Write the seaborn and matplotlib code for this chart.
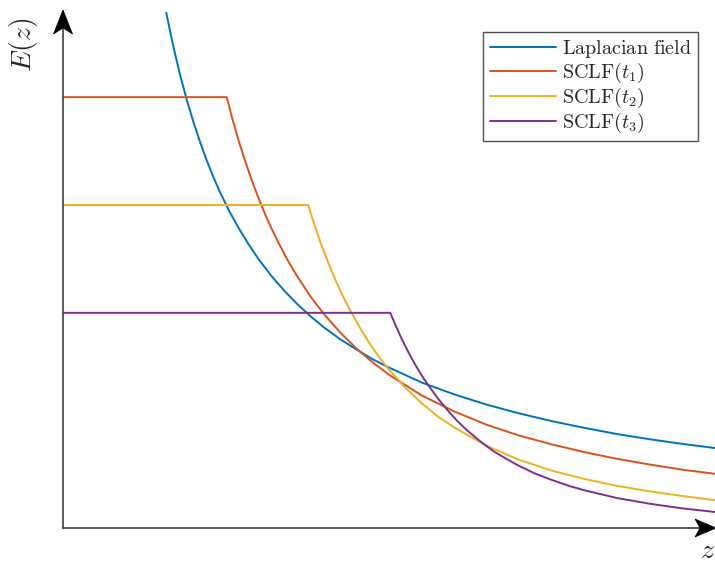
import matplotlib
matplotlib.use("Agg")
import matplotlib.pyplot as plt
import seaborn as sns
import pandas as pd
from matplotlib.patches import Polygon

# ---- data (arbitrary units) ----
lap_z = [1.58, 1.65, 1.72, 1.8, 1.9, 2.0, 2.1, 2.2, 2.3, 2.4, 2.55, 2.7, 2.85, 3.0, 3.2, 3.4,
         3.6, 3.8, 4.0, 4.25, 4.5, 4.75, 5.0, 5.5, 6.0, 6.5, 7.0, 7.5, 8.0, 8.5, 9.0, 9.5, 10.0]
lap_E = [10.01, 9.58, 9.18, 8.76, 8.29, 7.87, 7.49, 7.14, 6.82, 6.53, 6.14, 5.80, 5.49, 5.21, 4.88, 4.59,
         4.33, 4.10, 3.89, 3.66, 3.46, 3.27, 3.11, 2.82, 2.59, 2.39, 2.22, 2.07, 1.94, 1.82, 1.72, 1.63, 1.55]

t1_z = [0.0, 2.51, 2.6, 2.7, 2.8, 2.9, 3.0, 3.1, 3.2, 3.3, 3.45, 3.6, 3.8, 4.0, 4.25, 4.5, 4.75,
        5.0, 5.5, 6.0, 6.5, 7.0, 7.5, 8.0, 8.5, 9.0, 9.5, 10.0]
t1_E = [8.35, 8.35, 7.92, 7.48, 7.09, 6.72, 6.39, 6.08, 5.80, 5.54, 5.18, 4.86, 4.48, 4.15, 3.79, 3.48, 3.21,
        2.97, 2.57, 2.26, 2.00, 1.79, 1.62, 1.47, 1.34, 1.23, 1.13, 1.05]

t2_z = [0.0, 3.76, 3.85, 3.95, 4.05, 4.15, 4.27, 4.4, 4.55, 4.7, 4.85, 5.0, 5.25, 5.5, 5.75,
        6.0, 6.5, 7.0, 7.5, 8.0, 8.5, 9.0, 9.5, 10.0]
t2_E = [6.26, 6.26, 5.90, 5.53, 5.20, 4.89, 4.55, 4.23, 3.89, 3.58, 3.31, 3.07, 2.72, 2.42, 2.16,
        1.95, 1.59, 1.32, 1.11, 0.95, 0.815, 0.71, 0.62, 0.54]

t3_z = [0.0, 5.02, 5.1, 5.2, 5.3, 5.4, 5.5, 5.6, 5.75, 5.9, 6.05, 6.2, 6.4, 6.6, 6.8, 7.0,
        7.25, 7.5, 7.75, 8.0, 8.5, 9.0, 9.5, 10.0]
t3_E = [4.17, 4.17, 3.93, 3.65, 3.40, 3.17, 2.96, 2.77, 2.51, 2.28, 2.07, 1.89, 1.68, 1.49, 1.34, 1.20,
        1.05, 0.93, 0.82, 0.73, 0.58, 0.47, 0.38, 0.31]

labels = [r"$\mathrm{Laplacian\ field}$", r"$\mathrm{SCLF}(t_1)$",
          r"$\mathrm{SCLF}(t_2)$", r"$\mathrm{SCLF}(t_3)$"]
colors = ["#0072BD", "#D95319", "#EDB120", "#7E2F8E"]

sns.set_theme(style="white")
plt.rcParams["mathtext.fontset"] = "cm"
plt.rcParams["font.family"] = ["DejaVu Serif"]

W, H = 715, 563
fig = plt.figure(figsize=(W / 100, H / 100), dpi=100)
ax = fig.add_axes([63 / W, (H - 528) / H, (715 - 63) / W, (528 - 12) / H])

series = [(lap_z, lap_E), (t1_z, t1_E), (t2_z, t2_E), (t3_z, t3_E)]
for (z, E), lab, c in zip(series, labels, colors):
    df = pd.DataFrame({"z": z, "E": E})
    sns.lineplot(data=df, x="z", y="E", ax=ax, color=c, lw=1.4,
                 label=lab, estimator=None, sort=False)

ax.set_xlim(0, 10)
ax.set_ylim(0, 10)
ax.set_xticks([])
ax.set_yticks([])
ax.set_xlabel("")
ax.set_ylabel("")
for s in ["top", "right"]:
    ax.spines[s].set_visible(False)
for s in ["left", "bottom"]:
    ax.spines[s].set_color("#404040")
    ax.spines[s].set_linewidth(1.2)

# arrow heads (stealth style), in pixel coords converted to figure fraction
def fpoly(pts):
    return [(x / W, (H - y) / H) for x, y in pts]

yhead = fpoly([(63, 10), (72.5, 34), (63, 28), (53.5, 34)])
xhead = fpoly([(716, 528), (695, 519), (700, 528), (695, 537)])
for pts in (yhead, xhead):
    fig.patches.append(Polygon(pts, closed=True, transform=fig.transFigure,
                               facecolor="black", edgecolor="black", lw=0.5))

fig.text(24 / W, (H - 45) / H, r"$E(z)$", rotation=90, ha="center", va="center", fontsize=20)
fig.text(707 / W, (H - 551) / H, r"$z$", ha="center", va="center", fontsize=20)

leg = ax.legend(loc="upper right", bbox_to_anchor=(698 / W, (H - 32) / H),
                bbox_transform=fig.transFigure, borderaxespad=0,
                fontsize=14.5, frameon=True, fancybox=False, handlelength=3.3,
                handletextpad=0.3, labelspacing=0.05, borderpad=0.3)
leg.get_frame().set_edgecolor("#262626")
leg.get_frame().set_linewidth(1.0)
leg.get_frame().set_facecolor("white")

fig.savefig("out.png", dpi=100)
